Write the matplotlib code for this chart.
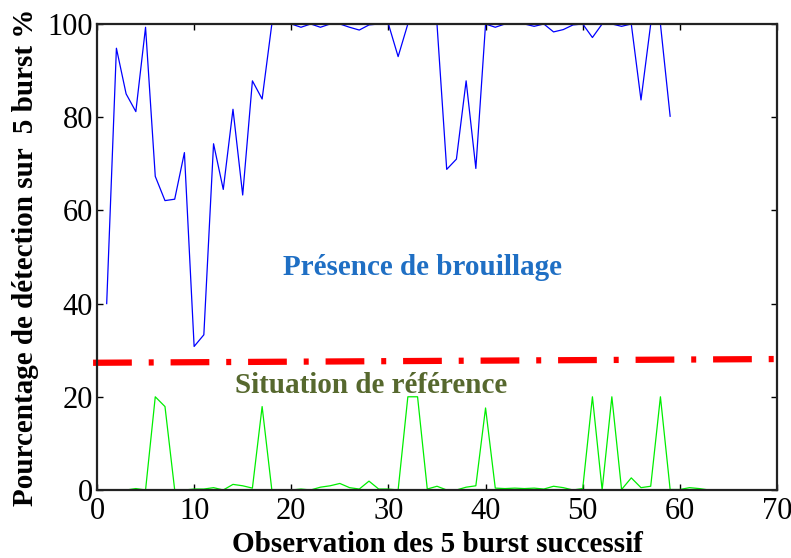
import matplotlib

matplotlib.use("Agg")
import matplotlib.pyplot as plt

# Detection rate with jamming (blue), x = 1..59
jam_x = list(range(1, 60))
jam_pct = [
    40, 94.8, 85, 81.2, 99.3, 67.3, 62.1, 62.4, 72.4, 30.8,
    33.3, 74.3, 64.5, 81.7, 63.3, 87.8, 83.9, 100, 100, 100,
    99.3, 100, 99.3, 100, 100, 99.3, 98.7, 99.8, 100, 100,
    93, 100, 100, 100, 100, 68.8, 71, 87.8, 69, 100,
    99.3, 100, 100, 100, 99.5, 100, 98.3, 98.8, 99.8, 100,
    97.1, 100, 100, 99.5, 100, 83.7, 100, 100, 80.2,
]

# Reference situation (green), x = 0..63
ref_x = list(range(0, 64))
ref_pct = [
    0, 0, 0, 0, 0.3, 0, 20, 17.9, 0, 0,
    0.2, 0.2, 0.5, 0, 1.2, 0.9, 0.4, 17.9, 0, 0,
    0, 0.2, 0, 0.6, 0.9, 1.4, 0.5, 0.2, 1.9, 0.2,
    0.2, 0, 20, 20, 0.2, 0.8, 0, 0, 0.6, 0.9,
    17.6, 0.4, 0.3, 0.4, 0.3, 0.4, 0.2, 0.8, 0.5, 0,
    0.3, 20, 0, 20, 0.1, 2.6, 0.5, 0.8, 20, 0.1,
    0.1, 0.5, 0.3, 0,
]

# Threshold line
thr_x = [-0.4, 70]
thr_y = [27.3, 28.1]

x_ticks = [0, 10, 20, 30, 40, 50, 60, 70]
y_ticks = [0, 20, 40, 60, 80, 100]

plt.rcParams["font.family"] = ["Liberation Serif", "DejaVu Serif"]

fig = plt.figure(figsize=(7.91, 5.58), dpi=100)
ax = fig.add_axes([0.1226, 0.1219, 0.8597, 0.8351])

ax.plot(jam_x, jam_pct, color="#0000ff", linewidth=0.9)
ax.plot(ref_x, ref_pct, color="#00ee00", linewidth=0.9)

# thick red dash-dot threshold
ax.plot(thr_x, thr_y, color="#ff0000", linewidth=4.5, clip_on=False,
        dashes=(6.2, 2.7, 0.8, 2.7), solid_capstyle="butt", dash_capstyle="butt")

ax.text(0.478, 0.478, "Présence de brouillage", transform=ax.transAxes,
        ha="center", va="center", fontsize=21, fontweight="bold", color="#1f6fc4")
ax.text(0.403, 0.224, "Situation de référence", transform=ax.transAxes,
        ha="center", va="center", fontsize=21, fontweight="bold", color="#56682e")

ax.set_xlim(0, 70)
ax.set_ylim(0, 100)
ax.set_xticks(x_ticks)
ax.set_yticks(y_ticks)
ax.tick_params(direction="in", length=4, width=1, top=True, right=True,
               labelsize=22)
ax.tick_params(axis="x", pad=5)
ax.tick_params(axis="y", pad=3)

for s in ax.spines.values():
    s.set_linewidth(1.6)
    s.set_color("#222222")

ax.set_xlabel("Observation des 5 burst successif", fontsize=21,
              fontweight="bold", labelpad=4)
ax.set_ylabel("Pourcentage de détection sur  5 burst %", fontsize=21,
              fontweight="bold", labelpad=6)

fig.savefig("out.png", dpi=100)
